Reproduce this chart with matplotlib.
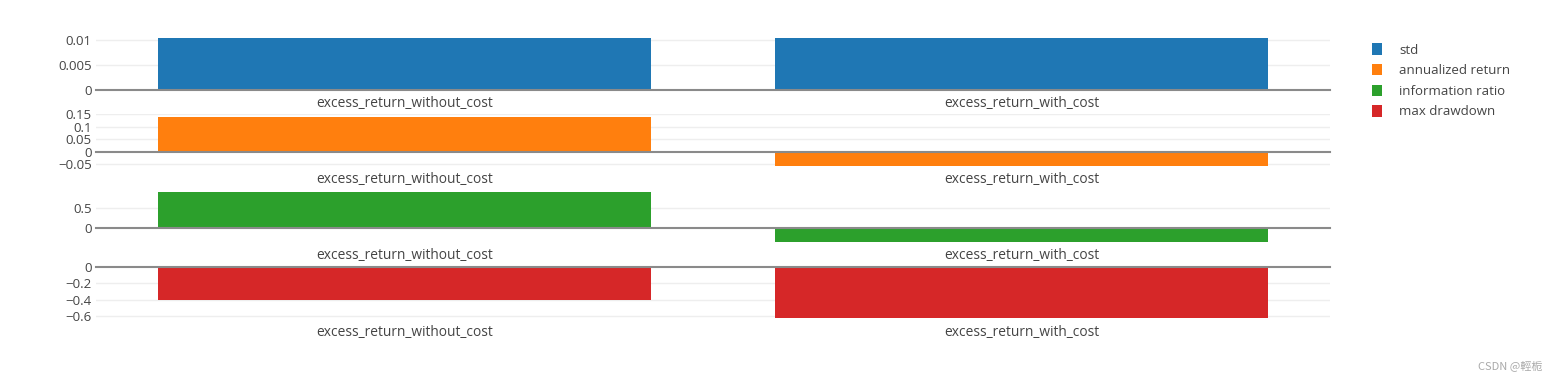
"""Bar panels: excess return metrics with / without cost (plotly-style look)."""

import matplotlib

matplotlib.use("Agg")
import matplotlib.pyplot as plt  # noqa: E402
from matplotlib.patches import Patch  # noqa: E402
from matplotlib.ticker import FuncFormatter  # noqa: E402

plt.rcParams["font.family"] = ["Open Sans", "DejaVu Sans"]

categories = ["excess_return_without_cost", "excess_return_with_cost"]
metrics = ["std", "annualized return", "information ratio", "max drawdown"]
colors = ["#1f77b4", "#ff7f0e", "#2ca02c", "#d62728"]

std = [0.0104, 0.0104]
annualized_return = [0.139, -0.057]
information_ratio = [0.89, -0.35]
max_drawdown = [-0.405, -0.63]

values = [std, annualized_return, information_ratio, max_drawdown]
yticks = [
    [0, 0.005, 0.01],
    [-0.05, 0, 0.05, 0.1, 0.15],
    [0, 0.5],
    [-0.6, -0.4, -0.2, 0],
]
ylims = [(0, 0.0104), (-0.058, 0.152), (-0.35, 0.95), (-0.638, 0)]

W, H = 1559, 381
TEXT = "#444444"
GRID = "#eeeeee"
ZERO = "#8a8a8a"
FS = 9.5


def fmt(v, _pos):
    s = f"{v:g}"
    return s.replace("-", "\u2212")


fig = plt.figure(figsize=(W / 100, H / 100), dpi=100)
left, right = 96, 1330
tops = [38, 114, 190, 267]
ph = 52

for i, (vals, col) in enumerate(zip(values, colors)):
    ax = fig.add_axes([left / W, 1 - (tops[i] + ph) / H, (right - left) / W, ph / H])
    ax.bar(range(len(categories)), vals, width=0.8, color=col, zorder=2)
    ax.set_xlim(-0.5, 1.5)
    ax.set_ylim(*ylims[i])
    ax.set_yticks(yticks[i])
    ax.yaxis.set_major_formatter(FuncFormatter(fmt))
    ax.set_xticks(range(len(categories)))
    ax.set_xticklabels(categories)
    ax.tick_params(axis="both", length=0, labelsize=FS, colors=TEXT)
    ax.tick_params(axis="x", pad=4, labelsize=9.9)
    ax.tick_params(axis="y", pad=3)
    for t in yticks[i]:
        if t != 0:
            ax.axhline(t, color=GRID, lw=1, zorder=1)
    ax.axhline(0, color=ZERO, lw=1.5, zorder=3, clip_on=False)
    for s in ax.spines.values():
        s.set_visible(False)

handles = [Patch(facecolor=c, edgecolor="none") for c in colors]
fig.legend(handles, metrics, loc="upper left", bbox_to_anchor=(1367 / W, 1 - 38 / H),
           frameon=False, fontsize=FS, labelcolor=TEXT, handlelength=0.75,
           handleheight=0.95, handletextpad=1.3, labelspacing=0.56, borderaxespad=0)

fig.text(1543 / W, 1 - 366 / H, "CSDN @輕栀", ha="right", va="center", fontsize=8,
         color="#aaaaaa", family=["Noto Sans CJK SC", "DejaVu Sans"])

fig.savefig("out.png", dpi=100, facecolor="white")
